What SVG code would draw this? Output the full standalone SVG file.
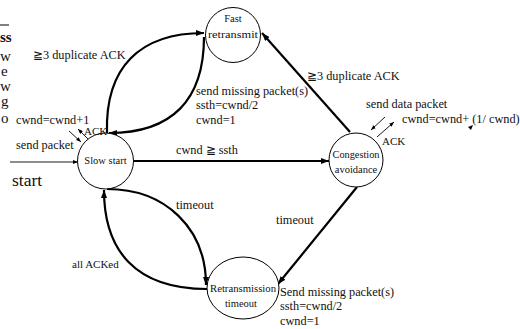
<svg xmlns="http://www.w3.org/2000/svg" width="520" height="329" viewBox="0 0 520 329" font-family="'Liberation Serif', 'DejaVu Serif', serif">
<defs>
<marker id="ah" markerUnits="userSpaceOnUse" markerWidth="8" markerHeight="6" refX="8" refY="3" orient="auto"><path d="M0,0 L8,3 L0,6 z" fill="#000"/></marker>
<marker id="as" markerUnits="userSpaceOnUse" markerWidth="5" markerHeight="4" refX="5" refY="2" orient="auto"><path d="M0,0 L5,2 L0,4 z" fill="#000"/></marker>
<style>
svg text{font-family:'Liberation Serif','DejaVu Serif',serif;fill:#111}
.st{fill:#fff;stroke:#000;stroke-width:1}
.tk{fill:none;stroke:#000;stroke-width:2.2;marker-end:url(#ah)}
.tn{fill:none;stroke:#000;stroke-width:0.9;marker-end:url(#as)}
.lb{font-size:12.3px}
.nd{font-size:10.5px;text-anchor:middle}
.mg{font-size:15px}
</style>
</defs>
<g id="margin">
<line x1="0" y1="25" x2="9" y2="25" stroke="#000" stroke-width="1"/>
<text class="mg" x="0" y="42" font-weight="bold">ss</text>
<text class="mg" x="0" y="61">w</text>
<text class="mg" x="1" y="76">e</text>
<text class="mg" x="0" y="91">w</text>
<text class="mg" x="1" y="106">g</text>
<text class="mg" x="1" y="123">o</text>
</g>
<g id="connectors">
<path class="tk" d="M107,133 C105,67 140,33 204,33"/>
<path class="tk" d="M204,37 C204,100 172,133 109,133"/>
<path class="tk" d="M133,161 L329,161"/>
<path class="tk" d="M350,132 L262,33"/>
<path class="tk" d="M357,187 L278,284"/>
<path class="tk" d="M107,189 C165,189 206,228 206,285"/>
<path class="tk" d="M207,289 C135,289 104,250 104,190"/>
<path class="tn" d="M10,162 L78,162"/>
<path class="tn" d="M88,139 L78,129"/>
<path class="tn" d="M69,131 L81,142"/>
<path class="tn" d="M385,117 L371,130"/>
<path class="tn" d="M377,137 L394,122"/>
<path d="M468,127 L473,125 L471,130 z" fill="#000"/>
</g>
<g id="slow-start">
<circle class="st" cx="105.5" cy="161" r="28"/>
<text class="nd" x="105.5" y="164">Slow start</text>
</g>
<g id="fast-retransmit">
<circle class="st" cx="233" cy="35" r="27.5"/>
<text class="nd" x="233" y="22">Fast</text>
<text class="nd" x="233" y="38" textLength="50" lengthAdjust="spacingAndGlyphs">retransmit</text>
</g>
<g id="congestion-avoidance">
<circle class="st" cx="356" cy="160" r="27"/>
<text class="nd" x="356" y="158" textLength="47" lengthAdjust="spacingAndGlyphs">Congestion</text>
<text class="nd" x="356" y="173">avoidance</text>
</g>
<g id="retransmission-timeout">
<ellipse class="st" cx="243" cy="288" rx="36" ry="31"/>
<text class="nd" x="243" y="292" textLength="66" lengthAdjust="spacingAndGlyphs">Retransmission</text>
<text class="nd" x="241" y="307">timeout</text>
</g>
<g id="labels">
<text class="lb" x="33" y="59">≧3 duplicate ACK</text>
<text class="lb" x="16" y="124">cwnd=cwnd+1</text>
<text x="84" y="135" font-size="11">ACK</text>
<text class="lb" x="16" y="149">send packet</text>
<text x="12" y="186" font-size="17.5">start</text>
<text class="lb" x="196" y="95">send missing packet(s)</text>
<text class="lb" x="196" y="109">ssth=cwnd/2</text>
<text class="lb" x="196" y="124">cwnd=1</text>
<text class="lb" x="176" y="154">cwnd ≧ ssth</text>
<text class="lb" x="307" y="80">≧3 duplicate ACK</text>
<text class="lb" x="366" y="108">send data packet</text>
<text class="lb" x="402" y="123">cwnd=cwnd+ (1/ cwnd)</text>
<text x="382" y="145" font-size="11">ACK</text>
<text class="lb" x="176" y="209">timeout</text>
<text x="72" y="268" font-size="11">all ACKed</text>
<text class="lb" x="276" y="224">timeout</text>
<text class="lb" x="280" y="296">Send missing packet(s)</text>
<text class="lb" x="280" y="310">ssth=cwnd/2</text>
<text class="lb" x="280" y="325">cwnd=1</text>
</g>
</svg>
